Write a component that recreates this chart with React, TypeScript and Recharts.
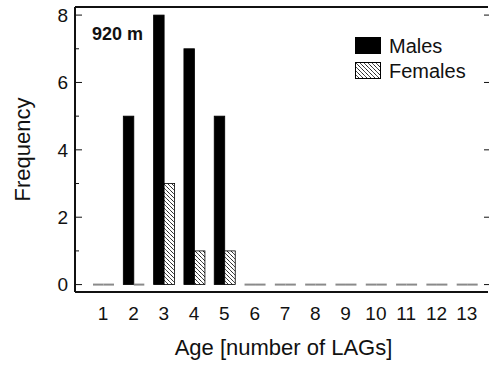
import React from "react";
import { BarChart, Bar, XAxis, YAxis } from "recharts";

// age classes (number of LAGs) and counts per sex
const ages = [1, 2, 3, 4, 5, 6, 7, 8, 9, 10, 11, 12, 13];
const males = [0, 5, 8, 7, 5, 0, 0, 0, 0, 0, 0, 0, 0];
const females = [0, 0, 3, 1, 1, 0, 0, 0, 0, 0, 0, 0, 0];
const yTicks = [0, 1, 2, 3, 4, 5, 6, 7, 8];
const siteLabel = "920 m";
const seriesNames = ["Males", "Females"];

const data = ages.map((age, i) => ({ age, males: males[i], females: females[i] }));

const FONT = "'Liberation Sans', Arial, sans-serif";
const INK = "#111";

// zero counts are drawn as a flat grey dash on the baseline
function HistBar(props: any) {
  const { x, y, width, height, fill, value } = props;
  const v = Array.isArray(value) ? value[1] - value[0] : value;
  if (!v) {
    return <line x1={x} x2={x + width} y1={y + height} y2={y + height} stroke="#8a8a8a" strokeWidth={2} />;
  }
  return <rect x={x} y={y} width={width} height={height} fill={fill} stroke="#000" strokeWidth={0.8} />;
}

// tickSize is 1, so the axis line sits 1px right of x
function LeftTick(props: any) {
  const { x, y, payload } = props;
  const ax = x + 1;
  const major = payload.value % 2 === 0;
  return (
    <g>
      <line x1={ax} x2={ax + (major ? 7 : 4)} y1={y} y2={y} stroke={INK} strokeWidth={1} />
      {major && (
        <text x={ax - 7} y={y} dy="0.36em" textAnchor="end" fontSize={19} fontFamily={FONT} fill={INK}>
          {payload.value}
        </text>
      )}
    </g>
  );
}

function RightTick(props: any) {
  const { x, y, payload } = props;
  if (payload.value % 2 !== 0) return <g />;
  return <line x1={x - 5} x2={x} y1={y} y2={y} stroke={INK} strokeWidth={1} />;
}

function BottomTick(props: any) {
  const { x, y, payload } = props;
  return (
    <text x={x} y={y + 27} textAnchor="middle" fontSize={19} fontFamily={FONT} fill={INK}>
      {payload.value}
    </text>
  );
}

function LegendBox() {
  const fills = ["#000", "url(#hatch-key)"];
  return (
    <div style={{ position: "absolute", left: 355, top: 33 }}>
      {seriesNames.map((name, i) => (
        <div key={name} style={{ display: "flex", alignItems: "center", height: 25 }}>
          <svg width={26} height={17} style={{ marginRight: 8 }}>
            <defs>
              <pattern id="hatch-key" width={4} height={4} patternUnits="userSpaceOnUse">
                <rect width={4} height={4} fill="#fff" />
                <path d="M-1,-1 l2,2 M0,0 l4,4 M3,3 l2,2" stroke="#222" strokeWidth={0.8} />
              </pattern>
            </defs>
            <rect x={0.5} y={0.5} width={25} height={16} fill={fills[i]} stroke="#000" strokeWidth={1} />
          </svg>
          <span style={{ fontSize: 20, fontFamily: FONT, color: INK, lineHeight: "20px" }}>{name}</span>
        </div>
      ))}
    </div>
  );
}

export default function App() {
  return (
    <div style={{ position: "absolute", left: 0, top: 0, width: 489, height: 365, background: "#fff" }}>
      <BarChart
        width={489}
        height={365}
        data={data}
        margin={{ top: 6, right: 0, bottom: 0, left: 0 }}
        barGap={0}
        barSize={10.5}
      >
        <defs>
          <pattern id="hatch" width={4} height={4} patternUnits="userSpaceOnUse">
            <rect width={4} height={4} fill="#fff" />
            <path d="M-1,-1 l2,2 M0,0 l4,4 M3,3 l2,2" stroke="#222" strokeWidth={0.8} />
          </pattern>
        </defs>
        <XAxis
          dataKey="age"
          height={73}
          padding={{ left: 13, right: 6 }}
          axisLine={{ stroke: INK, strokeWidth: 2 }}
          tickLine={false}
          tickSize={1}
          tickMargin={0}
          tick={<BottomTick />}
          interval={0}
          label={{
            content: (p: any) => (
              <text
                x={p.viewBox.x + p.viewBox.width / 2 + 2}
                y={p.viewBox.y + 63}
                textAnchor="middle"
                fontSize={22}
                fontFamily={FONT}
                fill={INK}
              >
                Age [number of LAGs]
              </text>
            ),
          }}
        />
        <XAxis
          xAxisId="top"
          dataKey="age"
          orientation="top"
          height={1}
          axisLine={{ stroke: INK, strokeWidth: 2 }}
          tick={false}
          tickLine={false}
        />
        <YAxis
          width={75}
          domain={[-0.22, 8.24]}
          ticks={yTicks}
          allowDataOverflow
          interval={0}
          axisLine={{ stroke: INK, strokeWidth: 2 }}
          tickLine={false}
          tickSize={1}
          tickMargin={0}
          tick={<LeftTick />}
          label={{
            content: (p: any) => (
              <text
                x={22}
                y={p.viewBox.y + p.viewBox.height / 2}
                transform={`rotate(-90 22 ${p.viewBox.y + p.viewBox.height / 2})`}
                textAnchor="middle"
                dominantBaseline="central"
                fontSize={22}
                fontFamily={FONT}
                fill={INK}
              >
                Frequency
              </text>
            ),
          }}
        />
        <YAxis
          yAxisId="right"
          orientation="right"
          width={1}
          domain={[-0.22, 8.24]}
          ticks={yTicks}
          allowDataOverflow
          interval={0}
          axisLine={false}
          tickLine={false}
          tickSize={1}
          tickMargin={0}
          tick={<RightTick />}
        />
        <Bar dataKey="males" name={seriesNames[0]} fill="#000" shape={<HistBar />} isAnimationActive={false} />
        <Bar dataKey="females" name={seriesNames[1]} fill="url(#hatch)" shape={<HistBar />} isAnimationActive={false} />
      </BarChart>
      <LegendBox />
      <div
        style={{
          position: "absolute",
          left: 92,
          top: 23,
          fontSize: 18,
          lineHeight: "22px",
          fontWeight: "bold",
          fontFamily: FONT,
          color: INK,
        }}
      >
        {siteLabel}
      </div>
    </div>
  );
}
